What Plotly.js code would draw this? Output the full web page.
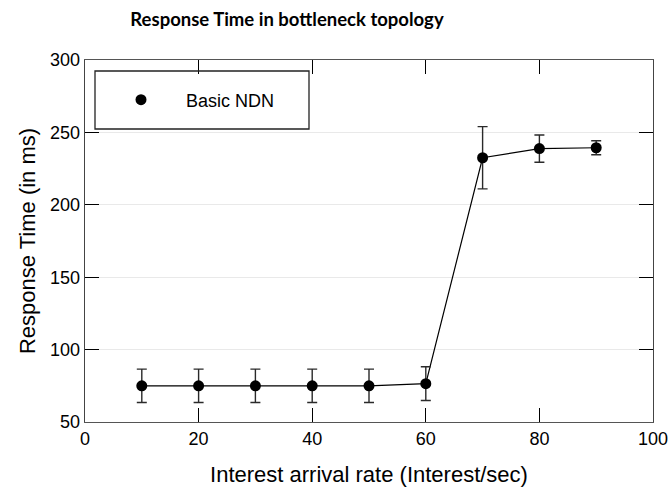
<!DOCTYPE html>
<html>
<head>
<meta charset="utf-8">
<script src="https://cdn.plot.ly/plotly-3.0.1.min.js"></script>
<style>html,body{margin:0;padding:0;background:#fff;}#chart{width:671px;height:491px;}</style>
</head>
<body>
<div id="chart"></div>
<script>
const rates = [10, 20, 30, 40, 50, 60, 70, 80, 90];
const responseTime = [75, 75, 75, 75, 75, 76.5, 232.5, 238.8, 239.4];
const errPlus = [11.5, 11.5, 11.5, 11.5, 11.5, 11.7, 21.5, 9.4, 4.8];
const seriesName = 'Basic NDN';
const xTicks = [0, 20, 40, 60, 80, 100];
const yTicks = [50, 100, 150, 200, 250, 300];

const lineTrace = {
  x: rates, y: responseTime, type: 'scatter', mode: 'lines', showlegend: false,
  line: {color: '#000', width: 1.2}, hoverinfo: 'skip'
};
const markerTrace = {
  x: rates, y: responseTime, name: seriesName,
  type: 'scatter', mode: 'markers',
  marker: {color: '#000', size: 11},
  error_y: {type: 'data', array: errPlus, visible: true, color: '#2a2a2a', thickness: 1.4, width: 5}
};

const tickFont = {family: 'Liberation Sans, Arial, sans-serif', size: 18, color: '#000'};
const axisTitleFont = {family: 'Liberation Sans, Arial, sans-serif', size: 22, color: '#000'};
const layout = {
  width: 671, height: 491,
  margin: {l: 85, r: 18, t: 60, b: 69},
  paper_bgcolor: '#fff', plot_bgcolor: '#fff',
  font: tickFont,
  title: {
    text: '<b>Response Time in bottleneck topology</b>',
    font: {family: 'Lato, DejaVu Sans, sans-serif', size: 18.5, color: '#000'},
    x: 287/671, xanchor: 'center', xref: 'container', y: 1 - 26/491, yanchor: 'bottom', yref: 'container'
  },
  xaxis: {
    range: [0, 100], tickvals: xTicks, ticktext: xTicks.map(String),
    ticks: 'inside', ticklen: 14, tickwidth: 1.3, tickcolor: '#000',
    showline: true, linecolor: '#555', linewidth: 1.3, mirror: 'ticks',
    showgrid: false, zeroline: false, tickfont: tickFont,
    title: {text: 'Interest arrival rate (Interest/sec)', font: axisTitleFont, standoff: 18}
  },
  yaxis: {
    range: [50, 300], tickvals: yTicks, ticktext: yTicks.map(String),
    ticks: 'inside', ticklen: 14, tickwidth: 1.3, tickcolor: '#000',
    showline: true, linecolor: '#444', linewidth: 1.3, mirror: 'ticks',
    showgrid: true, gridcolor: '#e9e9e9', gridwidth: 1, zeroline: false, tickfont: tickFont,
    title: {text: 'Response Time (in ms)', font: axisTitleFont, standoff: 8}
  },
  showlegend: true,
  legend: {
    x: (96 - 85) / 568, y: (422 - 100) / 362, xanchor: 'left', yanchor: 'middle',
    bgcolor: 'rgba(0,0,0,0)', borderwidth: 0, font: tickFont, itemwidth: 80
  },
  shapes: [{
    type: 'rect', xref: 'paper', yref: 'paper',
    x0: (95 - 85) / 568, x1: (309 - 85) / 568, y0: (422 - 129) / 362, y1: (422 - 71) / 362,
    line: {color: '#222', width: 1.3}, fillcolor: 'rgba(0,0,0,0)'
  }]
};
Plotly.newPlot('chart', [lineTrace, markerTrace], layout, {displayModeBar: false, staticPlot: true});
</script>
</body>
</html>
